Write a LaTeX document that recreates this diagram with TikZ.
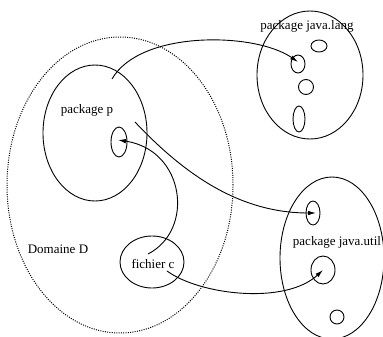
\documentclass[tikz,border=0pt]{standalone}
\usepackage{fontspec}
\setmainfont{Liberation Serif}
\usetikzlibrary{arrows.meta,shapes.geometric}
\begin{document}
\begin{tikzpicture}[x=1pt,y=-1pt,
  set/.style={draw,ellipse,line width=0.9pt,inner sep=0pt},
  dombox/.style={draw,ellipse,line width=1pt,inner sep=0pt,dash pattern=on 1pt off 1.3pt},
  lbl/.style={font=\fontsize{13}{15}\selectfont,inner sep=0pt},
  link/.style={line width=0.9pt,-{Latex[length=8pt,width=4.5pt]}}]
\useasboundingbox (0,0) rectangle (383,337);

% domain D (dotted)
\node[dombox,minimum width=226pt,minimum height=296pt] (D) at (120,185) {};
\node[lbl] (Dlbl) at (58,249) {Domaine D};

% package p
\node[set,minimum width=104pt,minimum height=136pt] (P) at (95,133) {};
\node[lbl] (Plbl) at (87,110) {package p};
\node[set,minimum width=16pt,minimum height=30pt] (p1) at (119,142) {};

% fichier c
\node[set,minimum width=64pt,minimum height=52pt] (C) at (152,262) {};
\node[lbl] (Clbl) at (153,264) {fichier c};

% package java.lang
\node[set,minimum width=106pt,minimum height=128pt] (L) at (310,75) {};
\node[lbl] (Llbl) at (307,26) {package java.lang};
\node[set,minimum width=16pt,minimum height=12pt] (l1) at (319,46) {};
\node[set,minimum width=14pt,minimum height=18pt] (l2) at (298,64) {};
\node[set,minimum width=15pt,minimum height=15pt] (l3) at (306,87) {};
\node[set,minimum width=12pt,minimum height=26pt] (l4) at (299,119) {};

% package java.util
\node[set,minimum width=104pt,minimum height=162pt] (U) at (332,258) {};
\node[lbl] (Ulbl) at (337,242) {package java.util};
\node[set,minimum width=14pt,minimum height=24pt] (u1) at (313,213) {};
\node[set,minimum width=24pt,minimum height=28pt] (u2) at (323,270) {};
\node[set,minimum width=14pt,minimum height=14pt] (u3) at (337,317) {};

% link end points
\coordinate (a1) at (112,79);
\coordinate (b1) at (298,62);
\coordinate (a2) at (135,122);
\coordinate (b2) at (316,213);
\coordinate (a3) at (167,271);
\coordinate (b3) at (323,270);
\coordinate (a4) at (148,254);
\coordinate (b4) at (118,140);

% links
\draw[link] (a1) .. controls (140,30) and (255,32) .. (b1);
\draw[link] (a2) .. controls (185,175) and (240,213) .. (b2);
\draw[link] (a3) .. controls (200,295) and (285,305) .. (b3);
\draw[link] (a4) .. controls (195,230) and (185,150) .. (b4);
\end{tikzpicture}
\end{document}
